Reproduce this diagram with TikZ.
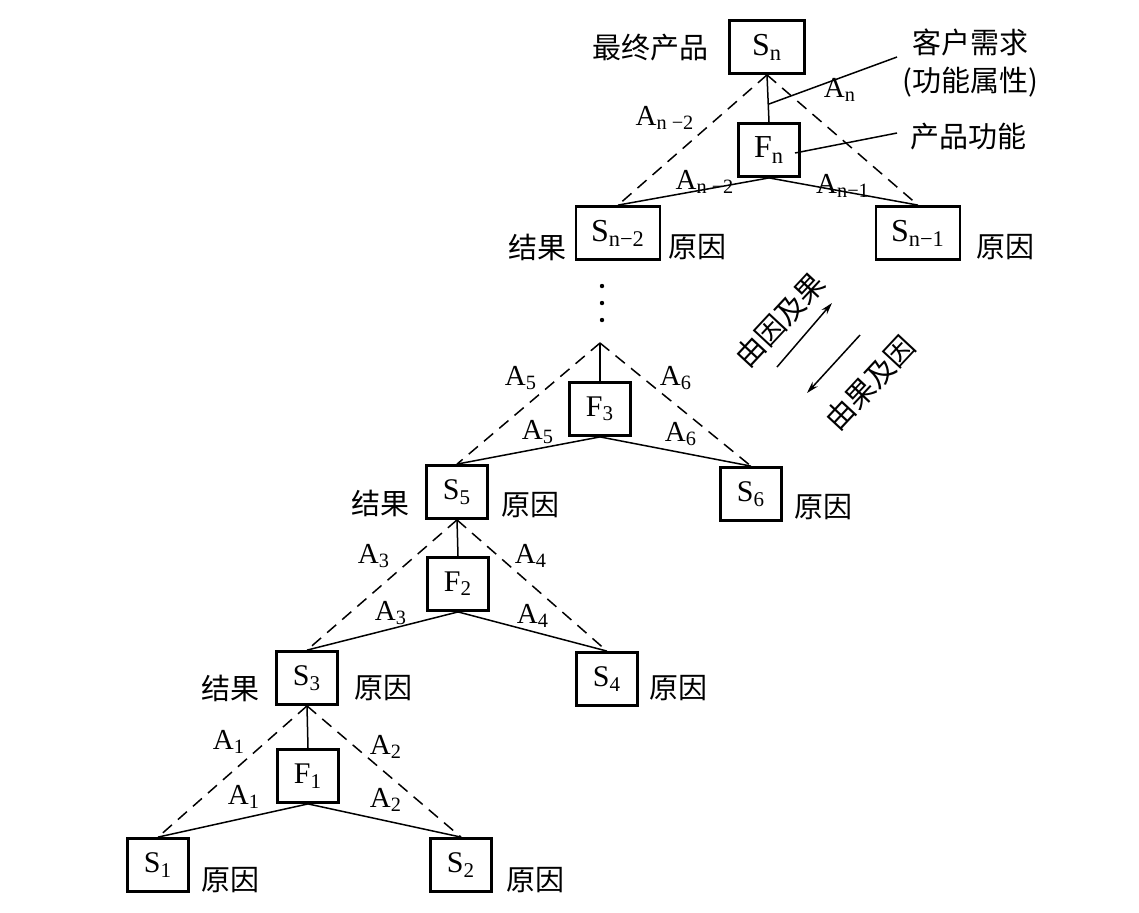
\documentclass[tikz,border=0pt]{standalone}
\usepackage{fontspec}
\setmainfont{Liberation Serif}
\newfontfamily\cjk{Noto Sans CJK SC}
\usetikzlibrary{arrows.meta}
\begin{document}
\begin{tikzpicture}[x=0.5pt,y=-0.5pt,
  box/.style={draw,line width=1.4pt,inner sep=0pt,minimum width=30.5pt,minimum height=26.5pt,font=\fontsize{15}{17}\selectfont},
  wbox/.style={box,minimum width=42pt},
  zh/.style={font=\cjk\fontsize{14.5}{17}\selectfont,inner sep=0pt},
  lab/.style={font=\fontsize{14.5}{17}\selectfont,inner sep=0pt},
  dashline/.style={line width=0.75pt,dash pattern=on 6pt off 4pt},
  link/.style={line width=0.75pt},
  arr/.style={line width=0.75pt,-{Stealth[length=6pt,width=3.5pt]}}]
\useasboundingbox (0,0) rectangle (1139,912);
% boxes
\node[box,minimum width=37.5pt,font=\fontsize{16}{18}\selectfont] (Sn) at (767,47) {S\textsubscript{n}};
\node[box,font=\fontsize{16}{18}\selectfont] (Fn) at (769,150) {F\textsubscript{n}};
\node[wbox,font=\fontsize{16}{18}\selectfont] (Sn2) at (618,233) {S\textsubscript{n−2}};
\node[wbox,font=\fontsize{16}{18}\selectfont] (Sn1) at (918,233) {S\textsubscript{n−1}};
\node[box] (F3) at (600,409) {F\textsubscript{3}};
\node[box] (S5) at (457,492) {S\textsubscript{5}};
\node[box] (S6) at (751,494) {S\textsubscript{6}};
\node[box] (F2) at (458,584) {F\textsubscript{2}};
\node[box] (S3) at (307,678) {S\textsubscript{3}};
\node[box] (S4) at (607,679) {S\textsubscript{4}};
\node[box] (F1) at (308,776) {F\textsubscript{1}};
\node[box] (S1) at (158,865) {S\textsubscript{1}};
\node[box] (S2) at (461,865) {S\textsubscript{2}};
\coordinate (top3) at (600,343);
% top triangle
\draw[link] (Sn.south) -- (Fn.north);
\draw[dashline] (Sn.south) -- (Sn2.north);
\draw[dashline] (Sn.south) -- (Sn1.north);
\draw[link] (Fn.south) -- (Sn2.north);
\draw[link] (Fn.south) -- (Sn1.north);
% middle triangle
\draw[link] (top3) -- (F3.north);
\draw[dashline] (top3) -- (S5.north);
\draw[dashline] (top3) -- (S6.north);
\draw[link] (F3.south) -- (S5.north);
\draw[link] (F3.south) -- (S6.north);
% S5 triangle
\draw[link] (S5.south) -- (F2.north);
\draw[dashline] (S5.south) -- (S3.north);
\draw[dashline] (S5.south) -- (S4.north);
\draw[link] (F2.south) -- (S3.north);
\draw[link] (F2.south) -- (S4.north);
% S3 triangle
\draw[link] (S3.south) -- (F1.north);
\draw[dashline] (S3.south) -- (S1.north);
\draw[dashline] (S3.south) -- (S2.north);
\draw[link] (F1.south) -- (S1.north);
\draw[link] (F1.south) -- (S2.north);
% dots
\fill (602,286) circle (2.2);
\fill (602,303) circle (2.2);
\fill (602,320) circle (2.2);
% callouts
\node[zh] (final) at (650,48) {最终产品};
\node[zh] (req) at (970,42) {客户需求};
\node[zh] (attr) at (970,82) {(功能属性)};
\node[zh] (func) at (968,137) {产品功能};
\coordinate (c1) at (769,104);
\coordinate (c1e) at (897,57);
\coordinate (c2) at (795,153);
\coordinate (c2e) at (897,133);
\draw[link] (c1) -- (c1e);
\draw[link] (c2) -- (c2e);
% A labels top
\node[lab] (An) at (840,90) {A\textsubscript{n}};
\node[lab] (An2a) at (665,118) {A\textsubscript{n −2}};
\node[lab] (An2b) at (705,182) {A\textsubscript{n −2}};
\node[lab] (An1b) at (843,186) {A\textsubscript{n−1}};
\node[zh] (r1) at (537,247) {结果};
\node[zh] (c3) at (697,247) {原因};
\node[zh] (c4) at (1005,247) {原因};
% middle labels
\node[lab] (A5a) at (521,378) {A\textsubscript{5}};
\node[lab] (A6a) at (676,378) {A\textsubscript{6}};
\node[lab] (A5b) at (538,432) {A\textsubscript{5}};
\node[lab] (A6b) at (681,434) {A\textsubscript{6}};
\node[zh] (r2) at (380,503) {结果};
\node[zh] (c5) at (530,505) {原因};
\node[zh] (c6) at (823,507) {原因};
% S5 triangle labels
\node[lab] (A3a) at (374,556) {A\textsubscript{3}};
\node[lab] (A4a) at (531,556) {A\textsubscript{4}};
\node[lab] (A3b) at (391,613) {A\textsubscript{3}};
\node[lab] (A4b) at (533,616) {A\textsubscript{4}};
\node[zh] (r3) at (230,688) {结果};
\node[zh] (c7) at (383,688) {原因};
\node[zh] (c8) at (678,688) {原因};
% S3 triangle labels
\node[lab] (A1a) at (229,742) {A\textsubscript{1}};
\node[lab] (A2a) at (386,747) {A\textsubscript{2}};
\node[lab] (A1b) at (244,797) {A\textsubscript{1}};
\node[lab] (A2b) at (386,800) {A\textsubscript{2}};
\node[zh] (c9) at (230,880) {原因};
\node[zh] (c10) at (535,880) {原因};
% direction arrows
\coordinate (a1s) at (777,367);
\coordinate (a1e) at (832,303);
\coordinate (a2s) at (860,335);
\coordinate (a2e) at (807,393);
\draw[arr] (a1s) -- (a1e);
\draw[arr] (a2s) -- (a2e);
\node[zh,rotate=47] (fw) at (780,320) {由因及果};
\node[zh,rotate=47] (bw) at (870,383) {由果及因};
\end{tikzpicture}
\end{document}
